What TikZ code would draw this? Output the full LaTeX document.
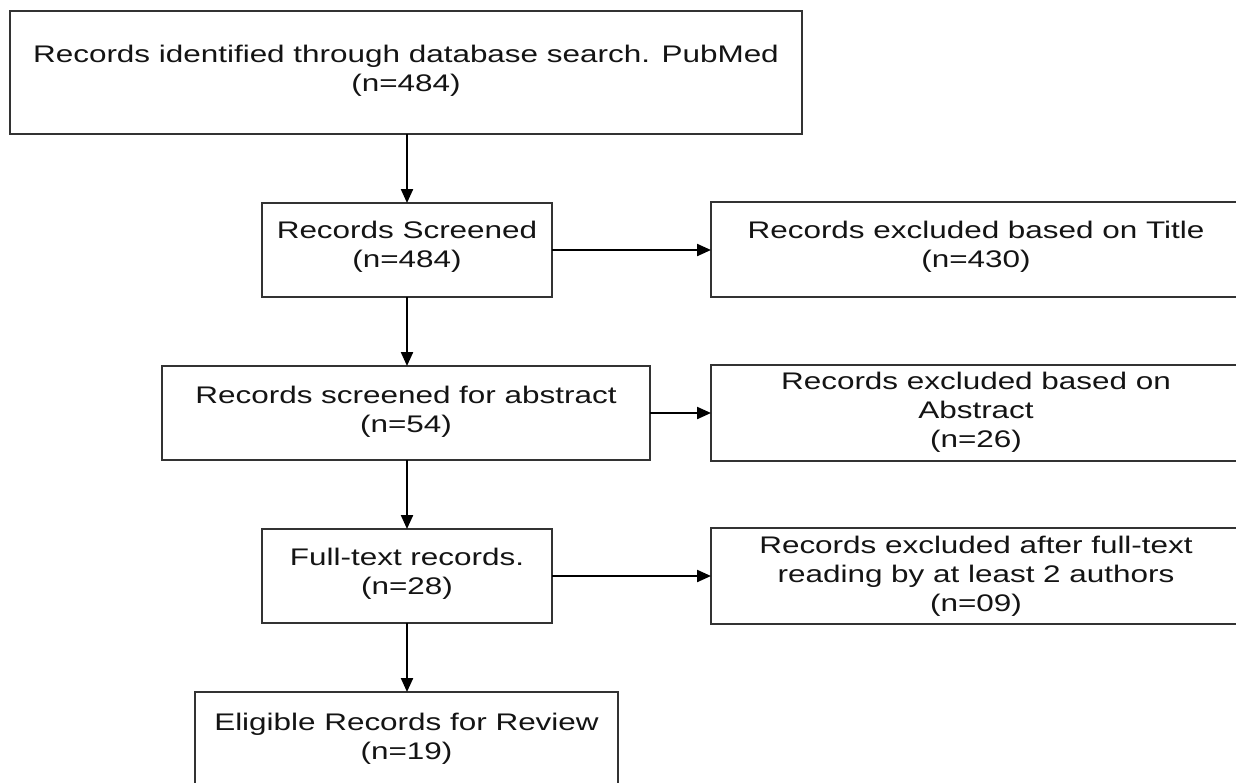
\documentclass[tikz,border=0pt]{standalone}
\usepackage{fontspec}
\setmainfont{Liberation Sans}[FakeStretch=1.31]
\usetikzlibrary{arrows.meta}
\definecolor{boxline}{HTML}{333333}
\begin{document}
\begin{tikzpicture}[x=1pt,y=-1pt,
  box/.style={draw=boxline, line width=2.4pt, rectangle, inner sep=0pt, outer sep=0pt},
  txt/.style={align=center, inner sep=0pt, font=\fontsize{24}{29}\selectfont, text=black!92},
  conn/.style={line width=2.2pt, draw=black, -{Triangle[length=14pt,width=12pt]}}]
\useasboundingbox (0,0) rectangle (1236,782);
\clip (0,0) rectangle (1236,782);
\fill[white] (0,0) rectangle (1236,782);
% main column boxes
\node[box, minimum width=792pt, minimum height=123pt] (top) at (406,72.5) {};
\node[box, minimum width=290pt, minimum height=94pt] (scr) at (407,250) {};
\node[box, minimum width=488pt, minimum height=94pt] (abs) at (406,413) {};
\node[box, minimum width=290pt, minimum height=94pt] (ft) at (407,576) {};
\node[box, minimum width=423pt, minimum height=120pt] (elig) at (406.5,752) {};
% exclusion column boxes
\node[box, minimum width=530pt, minimum height=95pt] (title) at (976,249.5) {};
\node[box, minimum width=530pt, minimum height=96pt] (absx) at (976,413) {};
\node[box, minimum width=530pt, minimum height=96pt] (ftx) at (976,576) {};
% texts
\node[txt] (topt) at (406,71) {Records identified through database search. PubMed\\(n=484)};
\node[txt] (scrt) at (407,247) {Records Screened\\(n=484)};
\node[txt] (abst) at (406,412) {Records screened for abstract\\(n=54)};
\node[txt] (ftt) at (407,574) {Full-text records.\\(n=28)};
\node[txt] (eligt) at (406.5,739) {Eligible Records for Review\\(n=19)};
\node[txt] (titlet) at (976,247) {Records excluded based on Title\\(n=430)};
\node[txt] (absxt) at (976,412) {Records excluded based on\\Abstract\\(n=26)};
\node[txt] (ftxt) at (976,576) {Records excluded after full-text\\reading by at least 2 authors\\(n=09)};
% connectors
\draw[conn] (top.south -| scr.north) -- (scr.north);
\draw[conn] (scr.south) -- (scr.south |- abs.north);
\draw[conn] (scr.south |- abs.south) -- (ft.north);
\draw[conn] (ft.south) -- (ft.south |- elig.north);
\draw[conn] (scr.east) -- (scr.east -| title.west);
\draw[conn] (abs.east) -- (abs.east -| absx.west);
\draw[conn] (ft.east) -- (ft.east -| ftx.west);
\end{tikzpicture}
\end{document}
